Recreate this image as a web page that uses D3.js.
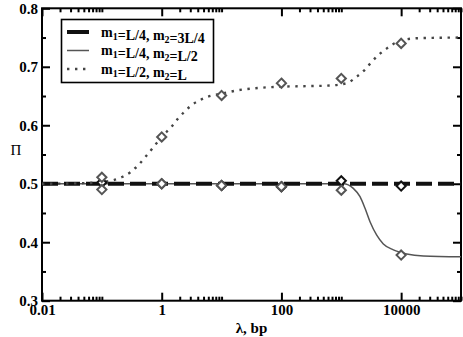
<!DOCTYPE html>
<html>
<head>
<meta charset="utf-8">
<script src="https://cdn.jsdelivr.net/npm/d3@7"></script>
<style>
  body { margin: 0; background: #fff; }
  svg { display: block; }
</style>
</head>
<body>
<div id="chart"></div>
<script>
// Data points (diamonds)
const markerLambda = [0.1, 1, 10, 100, 1000, 10000];
const piDashed = [0.502, 0.5, 0.497, 0.495, 0.505, 0.496];
const piSolid = [0.49, 0.5, 0.497, 0.495, 0.489, 0.378];
const piDotted = [0.511, 0.58, 0.651, 0.672, 0.680, 0.740];

// Fitted curves
const fitDashedLambda = [0.01, 100000];
const fitDashedPi = [0.5, 0.5];
const fitSolidLambda = [0.01, 100, 1082, 1589, 2056, 2493, 3020, 3910, 5040, 7410, 12400, 23500, 100000];
const fitSolidPi = [0.5, 0.5, 0.5, 0.492, 0.478, 0.458, 0.435, 0.412, 0.397, 0.387, 0.380, 0.3765, 0.375];
const fitDottedLambda = [0.01, 0.05, 0.1, 0.154, 0.223, 0.307, 0.406, 0.526, 0.681, 1, 1.47, 1.89, 2.45, 3.17, 4.36, 6.0, 10, 19, 43.9, 100, 300, 649, 1000, 1312, 1811, 2427, 3142, 4160, 5530, 7410, 12400, 20700, 100000];
const fitDottedPi = [0.5, 0.501, 0.503, 0.506, 0.512, 0.5205, 0.532, 0.545, 0.559, 0.58, 0.598, 0.612, 0.624, 0.6345, 0.643, 0.649, 0.654, 0.660, 0.664, 0.666, 0.667, 0.668, 0.670, 0.673, 0.683, 0.694, 0.707, 0.72, 0.730, 0.739, 0.747, 0.749, 0.750];

// Axis ticks
const xMajor = [0.01, 1, 100, 10000];
const xTickLabels = ["0.01", "1", "100", "10000"];
const yMajor = [0.3, 0.4, 0.5, 0.6, 0.7, 0.8];
const yTickLabels = ["0.3", "0.4", "0.5", "0.6", "0.7", "0.8"];
const yMinor = [0.35, 0.45, 0.55, 0.65, 0.75];

const legendLabels = ["m_1=L/4, m_2=3L/4", "m_1=L/4, m_2=L/2", "m_1=L/2, m_2=L"];

const width = 463;
const height = 337;
const marginTop = 8.3;
const marginRight = 2;
const marginBottom = 36.3;
const marginLeft = 42;

const font = "'Liberation Serif', 'Times New Roman', serif";

const x = d3.scaleLog()
    .domain([0.01, 100000])
    .range([marginLeft, width - marginRight]);

const y = d3.scaleLinear()
    .domain([0.3, 0.8])
    .range([height - marginBottom, marginTop]);

// minor ticks: 2..10 times each major
const xMinor = [];
xMajor.forEach(m => {
    for (let k = 2; k <= 10; k++) {
        const v = m * k;
        if (v <= 100000) xMinor.push(v);
    }
});

const svg = d3.select("#chart")
    .append("svg")
    .attr("width", width)
    .attr("height", height)
    .attr("viewBox", [0, 0, width, height]);

// Bottom axis
svg.append("g")
    .attr("transform", `translate(0,${height - marginBottom})`)
    .call(d3.axisBottom(x).tickValues(xMajor).tickSizeInner(-8).tickSizeOuter(0)
        .tickPadding(4).tickFormat((d, i) => xTickLabels[i]));
svg.append("g")
    .attr("transform", `translate(0,${height - marginBottom})`)
    .call(d3.axisBottom(x).tickValues(xMinor).tickSizeInner(-4).tickSizeOuter(0).tickFormat(""));

// Top axis
svg.append("g")
    .attr("transform", `translate(0,${marginTop})`)
    .call(d3.axisTop(x).tickValues(xMajor).tickSizeInner(-8).tickSizeOuter(0).tickFormat(""));
svg.append("g")
    .attr("transform", `translate(0,${marginTop})`)
    .call(d3.axisTop(x).tickValues(xMinor).tickSizeInner(-4).tickSizeOuter(0).tickFormat(""));

// Left axis
svg.append("g")
    .attr("transform", `translate(${marginLeft},0)`)
    .call(d3.axisLeft(y).tickValues(yMajor).tickSizeInner(-8).tickSizeOuter(0)
        .tickPadding(4).tickFormat((d, i) => yTickLabels[i]));
svg.append("g")
    .attr("transform", `translate(${marginLeft},0)`)
    .call(d3.axisLeft(y).tickValues(yMinor).tickSizeInner(-4).tickSizeOuter(0).tickFormat(""));

// Right axis
svg.append("g")
    .attr("transform", `translate(${width - marginRight},0)`)
    .call(d3.axisRight(y).tickValues(yMajor).tickSizeInner(-8).tickSizeOuter(0).tickFormat(""));
svg.append("g")
    .attr("transform", `translate(${width - marginRight},0)`)
    .call(d3.axisRight(y).tickValues(yMinor).tickSizeInner(-4).tickSizeOuter(0).tickFormat(""));

svg.selectAll(".domain").remove();
svg.selectAll(".tick line").attr("stroke", "#000").attr("stroke-width", 2);
svg.selectAll(".tick text")
    .attr("font-family", font)
    .attr("font-weight", "bold")
    .attr("font-size", 15)
    .attr("fill", "#000");

// Frame
svg.append("rect")
    .attr("x", marginLeft)
    .attr("y", marginTop)
    .attr("width", width - marginRight - marginLeft)
    .attr("height", height - marginBottom - marginTop)
    .attr("fill", "none")
    .attr("stroke", "#000")
    .attr("stroke-width", 2);

// Curves
const line = d3.line()
    .x(d => x(d[0]))
    .y(d => y(d[1]))
    .curve(d3.curveMonotoneX);

const plot = svg.append("g");

plot.append("path")
    .attr("d", line(d3.zip(fitSolidLambda, fitSolidPi)))
    .attr("fill", "none")
    .attr("stroke", "#555")
    .attr("stroke-width", 1.5);

plot.append("path")
    .attr("d", line(d3.zip(fitDashedLambda, fitDashedPi)))
    .attr("fill", "none")
    .attr("stroke", "#111")
    .attr("stroke-width", 3.8)
    .attr("stroke-dasharray", "16,6");

plot.append("path")
    .attr("d", line(d3.zip(fitDottedLambda, fitDottedPi)))
    .attr("fill", "none")
    .attr("stroke", "#444")
    .attr("stroke-width", 2.4)
    .attr("stroke-dasharray", "2.4,5.6");

// Diamonds
const diamond = "M0,-4.6L4.6,0L0,4.6L-4.6,0Z";
const markerSets = [
    { values: piDashed, color: "#111" },
    { values: piSolid, color: "#555" },
    { values: piDotted, color: "#555" }
];
markerSets.forEach(s => {
    plot.append("g")
        .selectAll("path")
        .data(d3.zip(markerLambda, s.values))
        .join("path")
        .attr("transform", d => `translate(${x(d[0])},${y(d[1])})`)
        .attr("d", diamond)
        .attr("fill", "#fff")
        .attr("stroke", s.color)
        .attr("stroke-width", 2);
});

// Legend
const legend = svg.append("g");
legend.append("rect")
    .attr("x", 61.5)
    .attr("y", 19.5)
    .attr("width", 152)
    .attr("height", 63)
    .attr("fill", "#fff")
    .attr("stroke", "#000")
    .attr("stroke-width", 1.6);

const legendStyles = [
    { stroke: "#111", width: 4, dash: null },
    { stroke: "#555", width: 1.5, dash: null },
    { stroke: "#444", width: 2.4, dash: "2.4,5.6" }
];
const legendY = [32, 50.5, 69];

legendLabels.forEach((lab, i) => {
    const ly = legendY[i];
    legend.append("line")
        .attr("x1", 67).attr("x2", 89)
        .attr("y1", ly).attr("y2", ly)
        .attr("stroke", legendStyles[i].stroke)
        .attr("stroke-width", legendStyles[i].width)
        .attr("stroke-dasharray", legendStyles[i].dash);
    const t = legend.append("text")
        .attr("x", 101)
        .attr("y", ly + 4.5)
        .attr("font-family", font)
        .attr("font-weight", "bold")
        .attr("font-size", 14);
    // split "m_1" into base + subscript
    lab.split(/(_\d)/).forEach(part => {
        if (!part) return;
        if (part[0] === "_") {
            t.append("tspan").attr("dy", 3).attr("font-size", 10).text(part.slice(1));
            t.append("tspan").attr("dy", -3).text("");
        } else {
            t.append("tspan").text(part);
        }
    });
});

// Axis titles
svg.append("text")
    .attr("x", 16)
    .attr("y", 155)
    .attr("text-anchor", "middle")
    .attr("font-family", font)
    .attr("font-size", 15)
    .text("Π");

svg.append("text")
    .attr("x", (marginLeft + width - marginRight) / 2)
    .attr("y", 333)
    .attr("text-anchor", "middle")
    .attr("font-family", font)
    .attr("font-weight", "bold")
    .attr("font-size", 15)
    .text("λ, bp");
</script>
</body>
</html>
